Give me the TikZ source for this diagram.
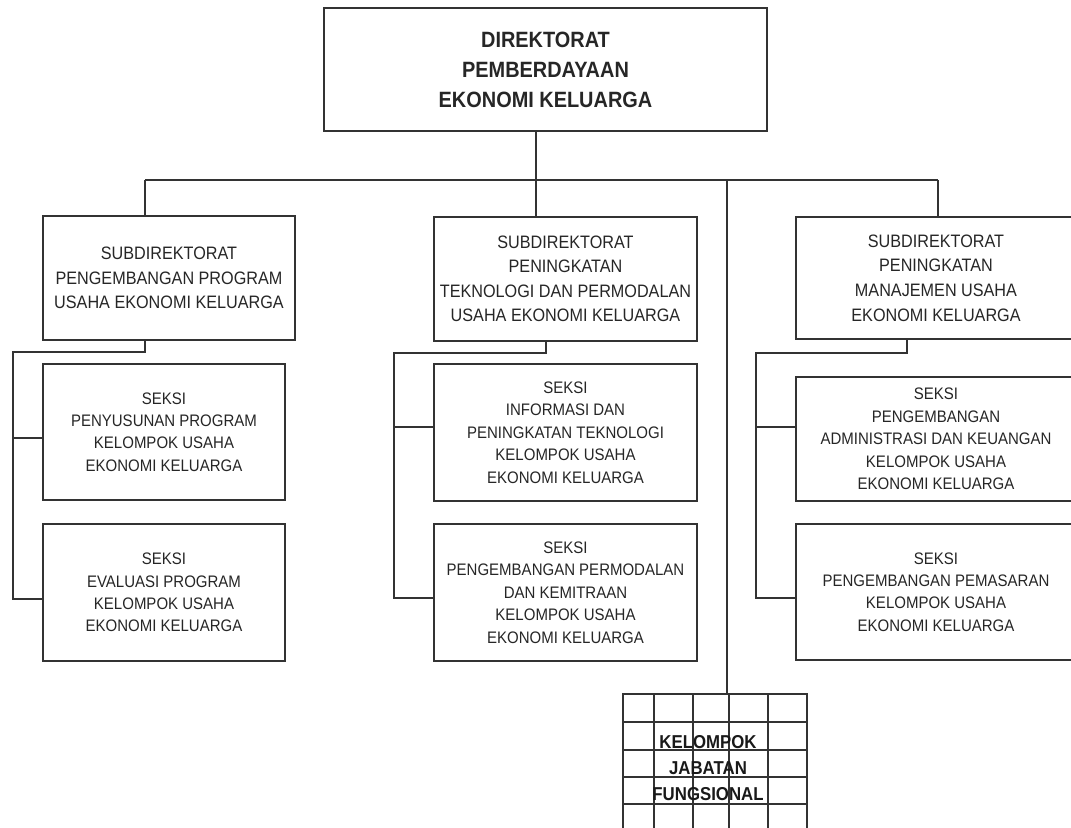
\documentclass[tikz,border=0pt]{standalone}
\usepackage{fontspec}
\setmainfont{Liberation Sans}[FakeStretch=0.9]
\begin{document}
\begin{tikzpicture}[x=0.75pt,y=-0.75pt,
  link/.style={draw=black!80, line width=0.9pt},
  sz/.style 2 args={minimum width=#1*0.75pt, minimum height=#2*0.75pt},
  unit/.style={draw=black!80, line width=0.9pt, inner sep=0pt, align=center, text=black!85},
  headbox/.style={unit, font=\fontsize{16.6}{22.5}\selectfont\bfseries},
  subbox/.style={unit, font=\fontsize{13.5}{18.4}\selectfont},
  seksibox/.style={unit, font=\fontsize{12.5}{16.8}\selectfont},
  gridbox/.style={draw=black!80, line width=0.9pt, inner sep=0pt},
  gridtext/.style={inner sep=0pt, align=center, text=black!90, font=\fontsize{14}{19.2}\selectfont\bfseries}]
\fill[white] (0,0) rectangle (1071,828);
\useasboundingbox (0,0) rectangle (1071,828);
\clip (0,0) rectangle (1071,828);

% directorate
\node[headbox, sz={443}{123}] (dir) at (545.5,69.5) {DIREKTORAT\\PEMBERDAYAAN\\EKONOMI KELUARGA};

% sub-directorates
\node[subbox, sz={252}{124}] (sub1) at (169,278) {SUBDIREKTORAT\\PENGEMBANGAN PROGRAM\\USAHA EKONOMI KELUARGA};
\node[subbox, sz={263}{124}] (sub2) at (565.5,279) {SUBDIREKTORAT\\PENINGKATAN\\TEKNOLOGI DAN PERMODALAN\\USAHA EKONOMI KELUARGA};
\node[subbox, sz={280}{122}] (sub3) at (936,278) {SUBDIREKTORAT\\PENINGKATAN\\MANAJEMEN USAHA\\EKONOMI KELUARGA};

% sections
\node[seksibox, sz={242}{136}] (s1a) at (164,432) {SEKSI\\PENYUSUNAN PROGRAM\\KELOMPOK USAHA\\EKONOMI KELUARGA};
\node[seksibox, sz={242}{137}] (s1b) at (164,592.5) {SEKSI\\EVALUASI PROGRAM\\KELOMPOK USAHA\\EKONOMI KELUARGA};
\node[seksibox, sz={263}{137}] (s2a) at (565.5,432.5) {SEKSI\\INFORMASI DAN\\PENINGKATAN TEKNOLOGI\\KELOMPOK USAHA\\EKONOMI KELUARGA};
\node[seksibox, sz={263}{137}] (s2b) at (565.5,592.5) {SEKSI\\PENGEMBANGAN PERMODALAN\\DAN KEMITRAAN\\KELOMPOK USAHA\\EKONOMI KELUARGA};
\node[seksibox, sz={280}{124}] (s3a) at (936,439) {SEKSI\\PENGEMBANGAN\\ADMINISTRASI DAN KEUANGAN\\KELOMPOK USAHA\\EKONOMI KELUARGA};
\node[seksibox, sz={280}{136}] (s3b) at (936,592) {SEKSI\\PENGEMBANGAN PEMASARAN\\KELOMPOK USAHA\\EKONOMI KELUARGA};

% functional group (gridded box)
\node[gridbox, sz={184}{151}] (jab) at (715,769.5) {};
\foreach \gx in {654,693,729,768}
  \draw[link] (\gx,694) -- (\gx,845);
\foreach \gy in {722,750,777,804,832}
  \draw[link] (623,\gy) -- (807,\gy);
\node[gridtext] (jabtext) at (708,768) {KELOMPOK\\JABATAN\\FUNGSIONAL};

% main bus
\coordinate (bus) at (536,180);
\coordinate (b1) at (145,180);
\coordinate (b3) at (938,180);
\coordinate (b4) at (727,180);
\draw[link] (dir.south -| bus) -- (bus);
\draw[link] (b1) -- (b3);
\draw[link] (b1) -- (b1 |- sub1.north);
\draw[link] (bus) -- (bus |- sub2.north);
\draw[link] (b3) -- (b3 |- sub3.north);
\draw[link] (b4) -- (b4 |- jab.north);

% left branch
\coordinate (d1) at (145,352);
\coordinate (t1) at (13,352);
\coordinate (t1b) at (13,599);
\coordinate (j1a) at (13,438);
\draw[link] (sub1.south -| d1) -- (d1) -- (t1) -- (t1b) -- (t1b -| s1b.west);
\draw[link] (j1a) -- (j1a -| s1a.west);

% middle branch
\coordinate (d2) at (546,353);
\coordinate (t2) at (394,353);
\coordinate (t2b) at (394,598);
\coordinate (j2a) at (394,427);
\draw[link] (sub2.south -| d2) -- (d2) -- (t2) -- (t2b) -- (t2b -| s2b.west);
\draw[link] (j2a) -- (j2a -| s2a.west);

% right branch
\coordinate (d3) at (907,353);
\coordinate (t3) at (756,353);
\coordinate (t3b) at (756,598);
\coordinate (j3a) at (756,427);
\draw[link] (sub3.south -| d3) -- (d3) -- (t3) -- (t3b) -- (t3b -| s3b.west);
\draw[link] (j3a) -- (j3a -| s3a.west);
\end{tikzpicture}
\end{document}
